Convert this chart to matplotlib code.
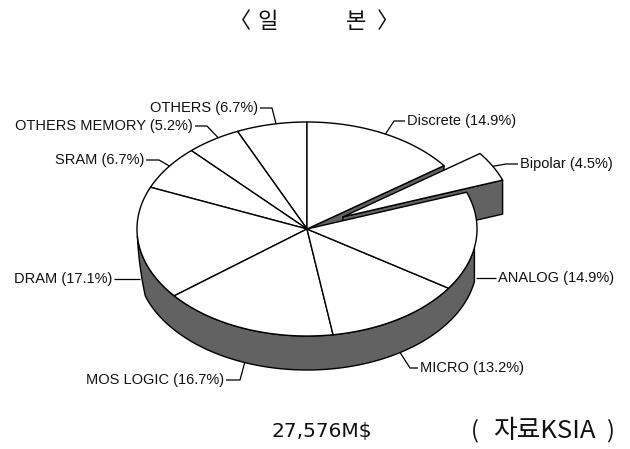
import numpy as np
import matplotlib
matplotlib.use("Agg")
import matplotlib.pyplot as plt
from matplotlib.patches import Polygon

# Semiconductor market share, Japan
categories = ["OTHERS", "OTHERS MEMORY", "SRAM", "DRAM", "MOS LOGIC",
              "MICRO", "ANALOG", "Bipolar", "Discrete"]
shares = [6.7, 5.2, 6.7, 17.1, 16.7, 13.2, 14.9, 4.5, 14.9]
exploded = ["Bipolar"]
title_chars = ["〈", "일", "본", "〉"]
total_text = "27,576M$"
source_parts = ["(", "자료KSIA", ")"]

W, H = 630, 449
fig = plt.figure(figsize=(W / 100, H / 100), dpi=100)
ax = fig.add_axes([0, 0, 1, 1])
ax.set_xlim(0, W)
ax.set_ylim(H, 0)
ax.axis("off")

label_font = ["Liberation Sans", "DejaVu Sans"]
cjk = ["Noto Sans CJK KR", "DejaVu Sans"]

# projected cylinder geometry
cx, cy = 307, 229
rx, ry = 170, 107
depth = 34
explode_r = 0.24
start_angle = 90.0
rim_from, rim_to = 184.0, 350.0
wall_color = "#626262"
lw = 1.0


def pt(t, r=1.0, off=(0.0, 0.0), z=0.0):
    t = np.radians(t)
    return (cx + rx * (r * np.cos(t) + off[0]),
            cy - ry * (r * np.sin(t) + off[1]) + z)


def arc(t0, t1, off=(0.0, 0.0), z=0.0, n=80):
    ts = np.linspace(t0, t1, n)
    return [pt(t, 1.0, off, z) for t in ts]


# slice angle ranges (counter-clockwise from the top)
total = float(sum(shares))
spans = [360.0 * v / total for v in shares]
bounds = []
a = start_angle
for s in spans:
    bounds.append((a, a + s))
    a += s

offsets = []
for name, (t0, t1) in zip(categories, bounds):
    if name in exploded:
        m = np.radians((t0 + t1) / 2)
        offsets.append((explode_r * np.cos(m), explode_r * np.sin(m)))
    else:
        offsets.append((0.0, 0.0))


def radial_wall(t, off):
    return [pt(t, 0, off), pt(t, 1, off), pt(t, 1, off, depth), pt(t, 0, off, depth)]


def add_poly(pts, fc, ec="black", z=1, lw_=lw):
    ax.add_patch(Polygon(pts, closed=True, facecolor=fc, edgecolor=ec,
                         linewidth=lw_, joinstyle="round", zorder=z))


# 1. radial walls of the main body seen through the gap left by an exploded slice
for name, (t0, t1) in zip(categories, bounds):
    if name not in exploded:
        continue
    if np.cos(np.radians(t1)) > 0:
        add_poly(radial_wall(t1, (0, 0)), wall_color, z=1)
    if np.cos(np.radians(t0)) < 0:
        add_poly(radial_wall(t0, (0, 0)), wall_color, z=1)

# 2. exploded slices: side faces then top
for name, (t0, t1), off in zip(categories, bounds, offsets):
    if name not in exploded:
        continue
    if np.cos(np.radians(t0)) > 0:
        add_poly(radial_wall(t0, off), wall_color, z=2)
    if np.cos(np.radians(t1)) < 0:
        add_poly(radial_wall(t1, off), wall_color, z=2)
    add_poly([pt(0, 0, off)] + arc(t0, t1, off), "white", z=3)

# 3. outer rim of the main body on the near side
rim_pieces = []
for name, (t0, t1) in zip(categories, bounds):
    if name in exploded:
        continue
    for k in (0, 360):
        lo, hi = max(t0, rim_from + k), min(t1, rim_to + k)
        if hi > lo:
            rim_pieces.append((lo, hi))
lo = min(p[0] for p in rim_pieces)
hi = max(p[1] for p in rim_pieces)
n = 120
ts = np.linspace(lo, hi, n)
# the rim fades in at the far left end
thick = depth * np.clip((ts - lo) / 14.0, 0, 1)
top = [pt(t) for t in ts]
bottom = [pt(t, z=d) for t, d in zip(ts[::-1], thick[::-1])]
add_poly(top + bottom, wall_color, z=4)

# 4. top faces of the main body
for name, (t0, t1), off in zip(categories, bounds, offsets):
    if name in exploded:
        continue
    add_poly([pt(0, 0)] + arc(t0, t1), "white", z=5)

# labels: (text x, text y, alignment, leader path ending on the chart)
label_layout = {
    "OTHERS":        (258, 108, "right", [(260, 108), (272, 108), pt(100.5)]),
    "OTHERS MEMORY": (193, 126, "right", [(195, 126), (207, 126), pt(121.5)]),
    "SRAM":          (144, 160, "right", [(146, 160), (159, 160), pt(144)]),
    "DRAM":          (112, 279, "right", [(114, 279), (140, 279)]),
    "MOS LOGIC":     (224, 380, "right", [(226, 380), (240, 380), pt(248.5, z=depth)]),
    "MICRO":         (420, 368, "left",  [(418, 368), (410, 368), pt(303.2, z=depth)]),
    "ANALOG":        (498, 278, "left",  [(496, 278), (476, 278)]),
    "Bipolar":       (520, 164, "left",  [(518, 164), (506, 164), None]),
    "Discrete":      (407, 121, "left",  [(405, 121), (394, 121), pt(62.5)]),
}

for name, value, (t0, t1), off in zip(categories, shares, bounds, offsets):
    tx, ty, ha, path = label_layout[name]
    path = [p if p is not None else pt((t0 + t1) / 2, 1, off) for p in path]
    xs, ys = zip(*path)
    ax.plot(xs, ys, color="black", lw=0.9, zorder=6, solid_capstyle="butt")
    ax.text(tx, ty, f"{name} ({value}%)", ha=ha, va="center",
            fontsize=10.5, family=label_font, color="#111111", zorder=7)

# title
for ch, x in zip(title_chars, [240, 268, 356, 388]):
    ax.text(x, 22, ch, ha="center", va="center", fontsize=16,
            family=cjk, color="#111111")

ax.text(322, 432, total_text, ha="center", va="center", fontsize=14.5,
        family=["DejaVu Sans"], color="#111111")
for txt, x, fs in zip(source_parts, [475, 544, 610], [17, 18.5, 17]):
    ax.text(x, 431, txt, ha="center", va="center", fontsize=fs,
            family=cjk, color="#111111")

fig.savefig("out.png", dpi=100, facecolor="white")
